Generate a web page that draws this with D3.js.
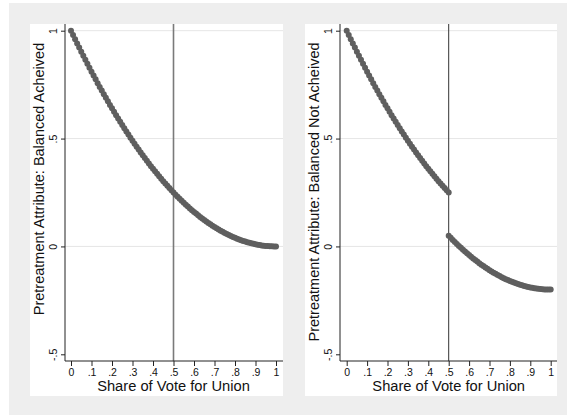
<!DOCTYPE html>
<html>
<head>
<meta charset="utf-8">
<script src="https://cdn.jsdelivr.net/npm/d3@7"></script>
<style>
  html, body { margin: 0; padding: 0; background: #ffffff; }
  svg { display: block; font-family: "Liberation Sans", Arial, sans-serif; }
</style>
</head>
<body>
<svg id="chart" width="567" height="415"></svg>
<script>
// Share of vote for union (x grid used by every series)
const voteShare = [
  0, .01, .02, .03, .04, .05, .06, .07, .08, .09,
  .10, .11, .12, .13, .14, .15, .16, .17, .18, .19,
  .20, .21, .22, .23, .24, .25, .26, .27, .28, .29,
  .30, .31, .32, .33, .34, .35, .36, .37, .38, .39,
  .40, .41, .42, .43, .44, .45, .46, .47, .48, .49,
  .50, .51, .52, .53, .54, .55, .56, .57, .58, .59,
  .60, .61, .62, .63, .64, .65, .66, .67, .68, .69,
  .70, .71, .72, .73, .74, .75, .76, .77, .78, .79,
  .80, .81, .82, .83, .84, .85, .86, .87, .88, .89,
  .90, .91, .92, .93, .94, .95, .96, .97, .98, .99, 1
];

// Left panel: balance achieved
const achievedValues = [
  1, .9801, .9604, .9409, .9216, .9025, .8836, .8649, .8464, .8281,
  .81, .7921, .7744, .7569, .7396, .7225, .7056, .6889, .6724, .6561,
  .64, .6241, .6084, .5929, .5776, .5625, .5476, .5329, .5184, .5041,
  .49, .4761, .4624, .4489, .4356, .4225, .4096, .3969, .3844, .3721,
  .36, .3481, .3364, .3249, .3136, .3025, .2916, .2809, .2704, .2601,
  .25, .2401, .2304, .2209, .2116, .2025, .1936, .1849, .1764, .1681,
  .16, .1521, .1444, .1369, .1296, .1225, .1156, .1089, .1024, .0961,
  .09, .0841, .0784, .0729, .0676, .0625, .0576, .0529, .0484, .0441,
  .04, .0361, .0324, .0289, .0256, .0225, .0196, .0169, .0144, .0121,
  .01, .0081, .0064, .0049, .0036, .0025, .0016, .0009, .0004, .0001, 0
];

// Right panel: balance not achieved, below the cutoff (x = 0 .. .5)
const notAchievedBelow = [
  1, .9801, .9604, .9409, .9216, .9025, .8836, .8649, .8464, .8281,
  .81, .7921, .7744, .7569, .7396, .7225, .7056, .6889, .6724, .6561,
  .64, .6241, .6084, .5929, .5776, .5625, .5476, .5329, .5184, .5041,
  .49, .4761, .4624, .4489, .4356, .4225, .4096, .3969, .3844, .3721,
  .36, .3481, .3364, .3249, .3136, .3025, .2916, .2809, .2704, .2601, .25
];

// Right panel: balance not achieved, above the cutoff (x = .5 .. 1)
const notAchievedAbove = [
  .05, .0401, .0304, .0209, .0116, .0025, -.0064, -.0151, -.0236, -.0319,
  -.04, -.0479, -.0556, -.0631, -.0704, -.0775, -.0844, -.0911, -.0976, -.1039,
  -.11, -.1159, -.1216, -.1271, -.1324, -.1375, -.1424, -.1471, -.1516, -.1559,
  -.16, -.1639, -.1676, -.1711, -.1744, -.1775, -.1804, -.1831, -.1856, -.1879,
  -.19, -.1919, -.1936, -.1951, -.1964, -.1975, -.1984, -.1991, -.1996, -.1999, -.2
];

const xTicks = [0, .1, .2, .3, .4, .5, .6, .7, .8, .9, 1];
const yTicks = [-.5, 0, .5, 1];
const cutoff = .5;

const xTitle = 'Share of Vote for Union';
const yTitles = [
  'Pretreatment Attribute: Balanced Acheived',
  'Pretreatment Attribute: Balanced Not Acheived'
];

// Stata-style numbers: no leading zero (".5", "-.5")
const stataNum = (d) => String(d).replace('0.', '.');

// Build point lists for each panel
const achievedPoints = voteShare.map((x, i) => ({x: x, y: achievedValues[i]}));
const notAchievedPoints = []
  .concat(voteShare.slice(0, 51).map((x, i) => ({x: x, y: notAchievedBelow[i]})))
  .concat(voteShare.slice(50).map((x, i) => ({x: x, y: notAchievedAbove[i]})));

// Panel geometry (white plot regions inside the gray graph region)
const panels = [
  {
    points: achievedPoints, yTitle: yTitles[0], titleMid: 179,
    boxLeft: 30, boxRight: 283, axisX: 65, xStart: 71, xEnd: 276,
    cutColor: '#7a7a7a', cutWidth: 1.6,
  },
  {
    points: notAchievedPoints, yTitle: yTitles[1], titleMid: 192,
    boxLeft: 305, boxRight: 557, axisX: 340, xStart: 346.7, xEnd: 550.7,
    cutColor: '#333333', cutWidth: 1,
  },
];

const BOX_TOP = 24;
const BOX_BOTTOM = 396;
const AXIS_Y = 361;

const svg = d3.select('#chart');

// Outer gray graph region
svg.append('rect')
  .attr('x', 9).attr('y', 3)
  .attr('width', 558).attr('height', 412)
  .attr('fill', '#eeeeee');

const y = d3.scaleLinear().domain([-.5, 1]).range([354.3, 30.7]);

panels.forEach((p) => {
  const x = d3.scaleLinear().domain([0, 1]).range([p.xStart, p.xEnd]);
  const g = svg.append('g');

  // White panel background
  g.append('rect')
    .attr('x', p.boxLeft).attr('y', BOX_TOP)
    .attr('width', p.boxRight - p.boxLeft)
    .attr('height', BOX_BOTTOM - BOX_TOP)
    .attr('fill', '#ffffff');

  // Horizontal grid lines
  g.selectAll('.grid')
    .data(yTicks.filter((d) => d > -.5))
    .enter().append('line')
    .attr('x1', p.axisX).attr('x2', p.boxRight)
    .attr('y1', (d) => y(d)).attr('y2', (d) => y(d))
    .attr('stroke', '#e6e6e6')
    .attr('stroke-width', 1);

  // Cutoff line at .5
  g.append('line')
    .attr('x1', x(cutoff)).attr('x2', x(cutoff))
    .attr('y1', BOX_TOP).attr('y2', AXIS_Y)
    .attr('stroke', p.cutColor)
    .attr('stroke-width', p.cutWidth);

  // Y axis (rotated labels, Stata-style)
  const yAxis = g.append('g')
    .attr('transform', `translate(${p.axisX},0)`)
    .call(d3.axisLeft(y).tickValues(yTicks)
      .tickFormat(stataNum)
      .tickSize(4));
  yAxis.select('.domain').remove();
  yAxis.append('line')
    .attr('x1', 0).attr('x2', 0)
    .attr('y1', BOX_TOP).attr('y2', AXIS_Y)
    .attr('stroke', '#222');
  yAxis.selectAll('.tick line').attr('stroke', '#222');
  yAxis.selectAll('.tick text')
    .attr('font-size', 10.5)
    .attr('fill', '#111')
    .attr('text-anchor', 'middle')
    .attr('dy', 0)
    .attr('x', 0)
    .attr('y', 0)
    .attr('transform', 'translate(-8,0) rotate(-90)');

  // X axis
  const xAxis = g.append('g')
    .attr('transform', `translate(0,${AXIS_Y})`)
    .call(d3.axisBottom(x).tickValues(xTicks)
      .tickFormat(stataNum)
      .tickSize(5).tickPadding(3));
  xAxis.select('.domain').remove();
  xAxis.append('line')
    .attr('x1', p.axisX).attr('x2', p.boxRight)
    .attr('y1', 0).attr('y2', 0)
    .attr('stroke', '#222');
  xAxis.selectAll('.tick line').attr('stroke', '#222');
  xAxis.selectAll('.tick text')
    .attr('font-size', 10.5)
    .attr('fill', '#111');

  // Axis titles
  g.append('text')
    .attr('x', (p.xStart + p.xEnd) / 2)
    .attr('y', 391)
    .attr('text-anchor', 'middle')
    .attr('font-size', 14.7)
    .attr('fill', '#111')
    .text(xTitle);

  g.append('text')
    .attr('transform', `translate(${p.boxLeft + 14},${p.titleMid}) rotate(-90)`)
    .attr('text-anchor', 'middle')
    .attr('font-size', 14.5)
    .attr('fill', '#111')
    .text(p.yTitle);

  // Scatter points
  g.selectAll('.pt')
    .data(p.points)
    .enter().append('circle')
    .attr('cx', (d) => x(d.x))
    .attr('cy', (d) => y(d.y))
    .attr('r', 3)
    .attr('fill', '#5f5f5f');
});
</script>
</body>
</html>
